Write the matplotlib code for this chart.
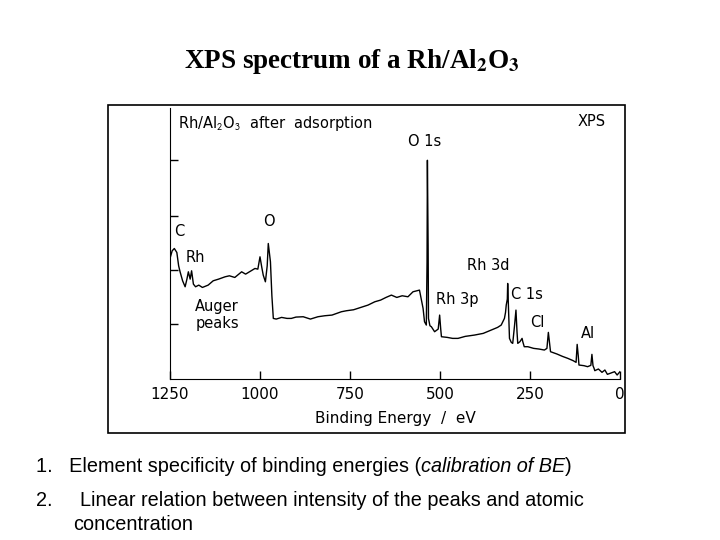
import matplotlib
matplotlib.use("Agg")
import matplotlib.pyplot as plt
from matplotlib.patches import Rectangle

binding_energy = [1250, 1244, 1238, 1231, 1226, 1222, 1215, 1208, 1203, 1199, 1194, 1190, 1185, 1179,
                  1170, 1160, 1144, 1130, 1115, 1097, 1085, 1070, 1051, 1040, 1025, 1014, 1006, 1000,
                  995, 991, 985, 980, 977, 974, 971, 967, 963, 955, 940, 925, 913, 900, 880, 860, 839,
                  820, 800, 774, 760, 740, 720, 700, 681, 665, 650, 635, 620, 605, 589, 575, 557, 552,
                  547, 543, 538, 536, 535, 533, 532, 528, 524, 515, 505, 501, 498, 496, 480, 465, 450,
                  430, 404, 380, 358, 340, 330, 321, 318, 316, 313, 312, 310, 307, 302, 298, 293, 289,
                  286, 284, 278, 272, 270, 266, 256, 240, 225, 210, 203, 199, 196, 193, 175, 160, 145,
                  130, 122, 119, 116, 114, 100, 90, 81, 78, 75, 72, 70, 60, 50, 42, 35, 25, 15, 8, 0]
intensity = [362, 385, 392, 380, 340, 322, 295, 277, 300, 322, 300, 325, 285, 277,
             282, 275, 282, 295, 300, 307, 310, 305, 322, 315, 325, 332, 330, 367,
             335, 312, 292, 340, 407, 380, 352, 250, 182, 180, 185, 182, 182, 186, 187, 180, 187,
             190, 192, 202, 205, 208, 215, 222, 232, 237, 245, 252, 245, 250, 247, 262, 267, 240,
             212, 172, 162, 350, 657, 400, 182, 160, 157, 142, 150, 192, 150, 127, 125, 122, 122,
             128, 132, 137, 147, 155, 162, 182, 200, 222, 240, 287, 220, 122, 110, 107, 160, 207,
             140, 107, 112, 122, 112, 97, 97, 92, 90, 87, 92, 140, 110, 82, 75, 68, 62,
             55, 50, 104, 70, 42, 40, 37, 41, 74, 40, 32, 25, 30, 20, 27, 14, 18, 22, 12, 22]

tick_positions = [1250, 1000, 750, 500, 250, 0]
tick_labels = ["1250", "1000", "750", "500", "250", "0"]

plt.rcParams["mathtext.fontset"] = "stix"

fig = plt.figure(figsize=(7.2, 5.4), dpi=100)
fig.patch.set_facecolor("white")

# frame of the scanned picture
fig.patches.append(Rectangle((108 / 720, 1 - 433 / 540), 517 / 720, 328 / 540,
                             transform=fig.transFigure, fill=False, edgecolor="black", linewidth=1.2))

fig.text(0.489, 1 - 62 / 540, r"XPS spectrum of a Rh/Al$_\mathbf{2}$O$_\mathbf{3}$", ha="center",
         va="center", family="Liberation Serif", fontsize=19.5, weight="bold")

ax = fig.add_axes([170 / 720, 1 - 379 / 540, 450 / 720, 271 / 540])
ax.plot(binding_energy, intensity, color="black", linewidth=1.0)
ax.set_xlim(1250, 0)
ax.set_ylim(0, 814)
ax.spines["top"].set_visible(False)
ax.spines["right"].set_visible(False)
ax.set_xticks(tick_positions)
ax.set_xticklabels(tick_labels, fontsize=11)
ax.set_yticks([164, 327, 489, 657])
ax.set_yticklabels([])
ax.tick_params(direction="in", length=6, width=1)
ax.tick_params(axis="x", pad=6)
ax.set_xlabel("Binding Energy  /  eV", fontsize=11, labelpad=6)

labels = [
    (1227, 767, r"Rh/Al$_\mathsf{2}$O$_\mathsf{3}$  after  adsorption"),
    (117, 772, "XPS"),
    (589, 714, "O 1s"),
    (990, 472, "O"),
    (1238, 442, "C"),
    (1206, 364, "Rh"),
    (1180, 192, "Auger\npeaks"),
    (424, 342, "Rh 3d"),
    (510, 240, "Rh 3p"),
    (302, 255, "C 1s"),
    (250, 169, "Cl"),
    (108, 137, "Al"),
]
for x, y, text in labels:
    ax.text(x, y, text, ha="left", va="center", fontsize=10.5, multialignment="left")

fs = 14.3
first = fig.text(36 / 720, 1 - 466 / 540, "1.   Element specificity of binding energies (",
                 fontsize=fs, family="Liberation Sans", va="center")
fig.canvas.draw()
r = first.get_window_extent()
middle = fig.text(r.x1 / 720, 1 - 466 / 540, "calibration of BE", fontsize=fs,
                  family="Liberation Sans", style="italic", va="center")
fig.canvas.draw()
r2 = middle.get_window_extent()
fig.text(r2.x1 / 720, 1 - 466 / 540, ")", fontsize=fs, family="Liberation Sans", va="center")
fig.text(36 / 720, 1 - 500 / 540, "2.     Linear relation between intensity of the peaks and atomic",
         fontsize=fs, family="Liberation Sans", va="center")
fig.text(73 / 720, 1 - 525 / 540, "concentration", fontsize=fs, family="Liberation Sans", va="center")

fig.savefig("out.png", dpi=100)
